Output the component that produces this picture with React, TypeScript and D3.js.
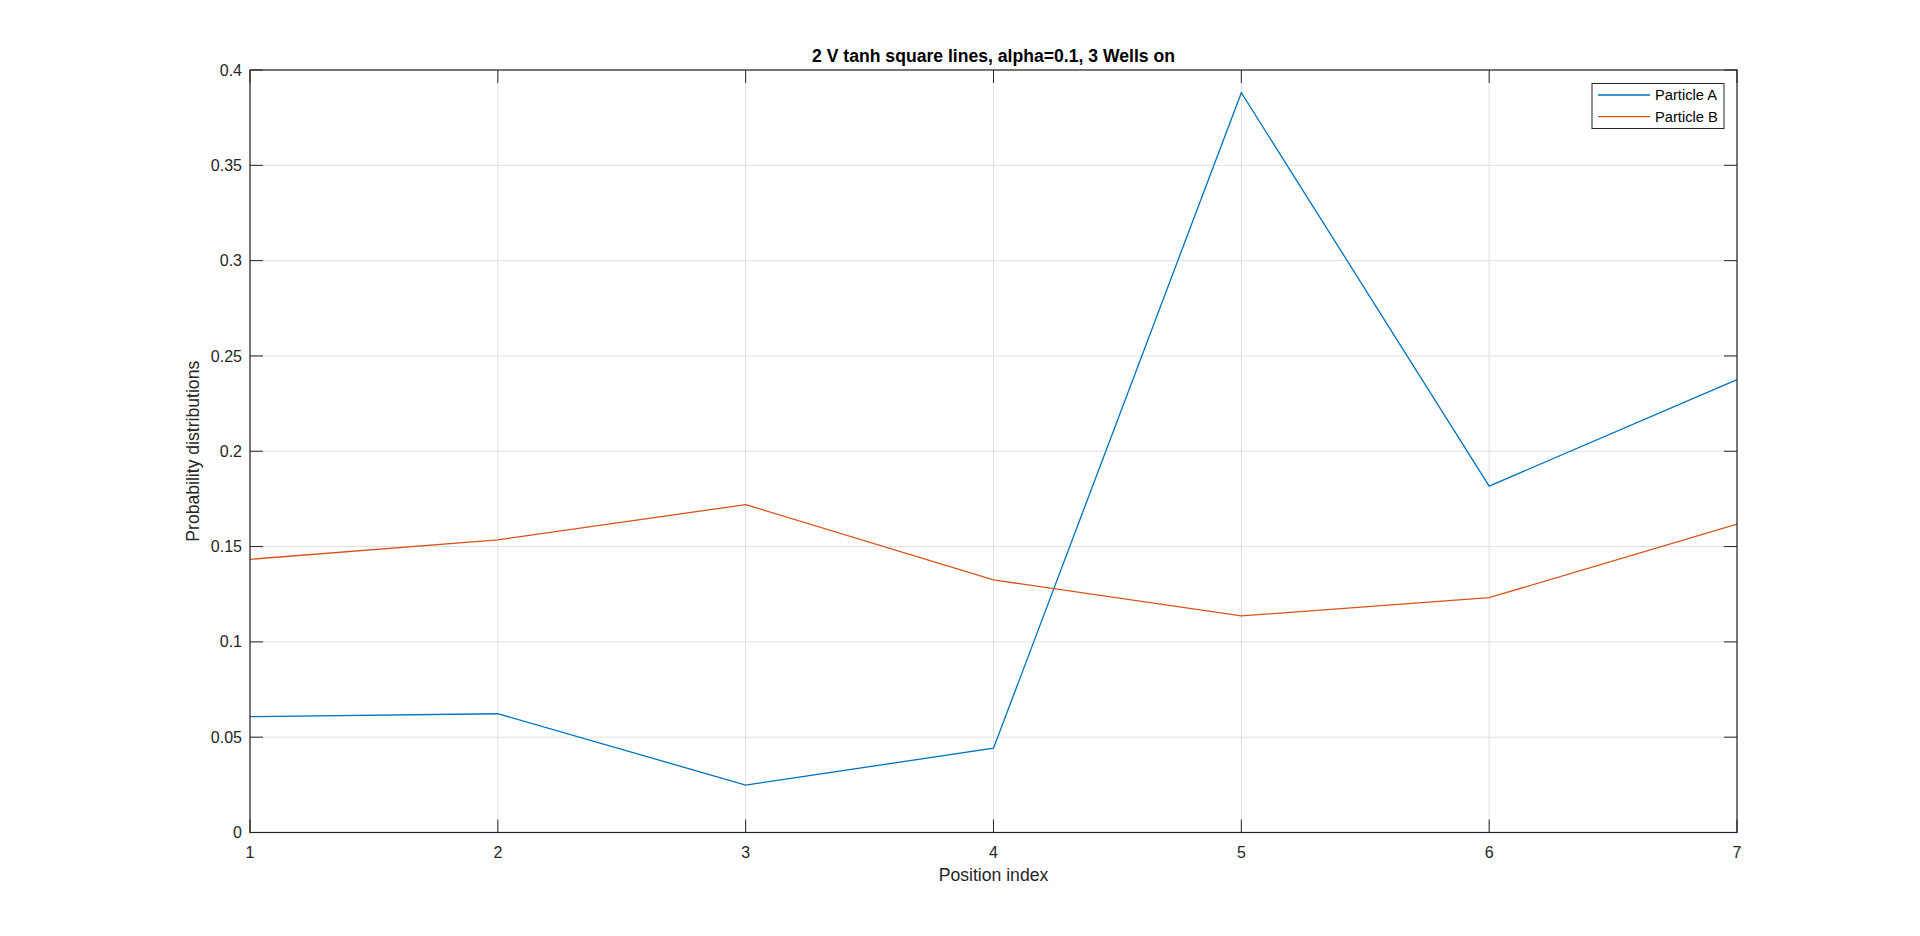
import React from "react";
import * as d3 from "d3";

const positions = [1, 2, 3, 4, 5, 6, 7];
const particleA = [0.0608, 0.0623, 0.0249, 0.0442, 0.3881, 0.1817, 0.2376];
const particleB = [0.1433, 0.1535, 0.172, 0.1325, 0.1136, 0.1232, 0.1618];
const yTicks = [0, 0.05, 0.1, 0.15, 0.2, 0.25, 0.3, 0.35, 0.4];
const seriesNames = ["Particle A", "Particle B"];
const seriesColors = ["#0072BD", "#D95319"];

const W = 1920;
const H = 936;
const L = 250, R = 1737, T = 70, B = 832.5;

export default function App() {
  const x = d3.scaleLinear().domain([1, 7]).range([L, R]);
  const y = d3.scaleLinear().domain([0, 0.4]).range([B, T]);
  const line = d3
    .line<number>()
    .x((_, i) => x(positions[i]))
    .y((d) => y(d));
  const series = [particleA, particleB];
  const font = "Arial, 'Liberation Sans', Helvetica, sans-serif";
  const axisColor = "#262626";
  const tickLen = 13;

  return (
    <svg
      width={W}
      height={H}
      style={{ position: "absolute", left: 0, top: 0, background: "#fff" }}
      fontFamily={font}
    >
      <rect x={0} y={0} width={W} height={H} fill="#fff" />
      {positions.map((p) => (
        <line key={"gx" + p} x1={x(p)} x2={x(p)} y1={T} y2={B} stroke="#dfdfdf" strokeWidth={1} />
      ))}
      {yTicks.map((t) => (
        <line key={"gy" + t} x1={L} x2={R} y1={y(t)} y2={y(t)} stroke="#dfdfdf" strokeWidth={1} />
      ))}
      {series.map((s, i) => (
        <path key={"s" + i} d={line(s) || ""} fill="none" stroke={seriesColors[i]} strokeWidth={1.3} />
      ))}
      {positions.map((p) => (
        <g key={"tx" + p}>
          <line x1={x(p)} x2={x(p)} y1={B} y2={B - tickLen} stroke={axisColor} />
          <line x1={x(p)} x2={x(p)} y1={T} y2={T + tickLen} stroke={axisColor} />
          <text x={x(p)} y={852} dy="0.35em" textAnchor="middle" fontSize={16} fill={axisColor}>
            {p}
          </text>
        </g>
      ))}
      {yTicks.map((t) => (
        <g key={"ty" + t}>
          <line x1={L} x2={L + tickLen} y1={y(t)} y2={y(t)} stroke={axisColor} />
          <line x1={R} x2={R - tickLen} y1={y(t)} y2={y(t)} stroke={axisColor} />
          <text x={242} y={y(t)} dy="0.35em" textAnchor="end" fontSize={16} fill={axisColor}>
            {String(t)}
          </text>
        </g>
      ))}
      <rect x={L} y={T} width={R - L} height={B - T} fill="none" stroke={axisColor} strokeWidth={1.2} />
      <text x={(L + R) / 2} y={62} textAnchor="middle" fontSize={17.6} fontWeight="bold" fill="#000">
        2 V tanh square lines, alpha=0.1, 3 Wells on
      </text>
      <text x={(L + R) / 2} y={881} textAnchor="middle" fontSize={17.6} fill={axisColor}>
        Position index
      </text>
      <text
        transform={`translate(199, ${(T + B) / 2}) rotate(-90)`}
        textAnchor="middle"
        fontSize={17.6}
        fill={axisColor}
      >
        Probability distributions
      </text>
      <rect x={1592} y={83.5} width={132} height={45} fill="#fff" stroke={axisColor} strokeWidth={1} />
      {seriesNames.map((n, i) => (
        <g key={"lg" + i}>
          <line x1={1598} x2={1650} y1={95 + i * 21.7} y2={95 + i * 21.7} stroke={seriesColors[i]} strokeWidth={1.3} />
          <text x={1655} y={95 + i * 21.7} dy="0.35em" fontSize={14.7} fill="#000">
            {n}
          </text>
        </g>
      ))}
    </svg>
  );
}
